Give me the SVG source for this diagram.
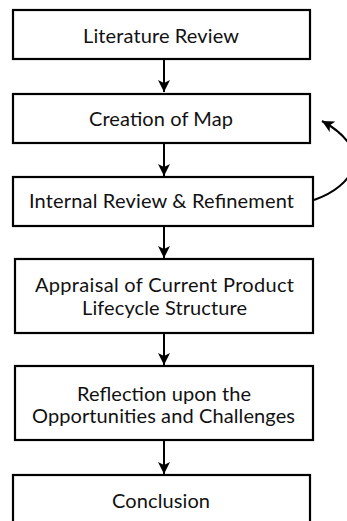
<svg xmlns="http://www.w3.org/2000/svg" width="347" height="521" viewBox="0 0 347 521">
  <style>
    .box { fill: #ffffff; stroke: #000000; stroke-width: 2.2; }
    .lbl { font-family: "Lato", "Liberation Sans", sans-serif; font-size: 20px; fill: #111111; text-anchor: middle; }
    .edge { fill: none; stroke: #000000; stroke-width: 2; }
  </style>
  <defs>
    <marker id="arrow" viewBox="0 0 12 12" refX="12" refY="6" markerWidth="12" markerHeight="12" markerUnits="userSpaceOnUse" orient="auto">
      <path d="M0,0 L12,6 L0,12 L3,6 Z" fill="#000000"/>
    </marker>
  </defs>

  <rect x="0" y="0" width="347" height="521" fill="#ffffff"/>

  <g id="connectors">
    <line class="edge" x1="164" y1="60" x2="164" y2="92" marker-end="url(#arrow)"/>
    <line class="edge" x1="164" y1="144" x2="164" y2="176" marker-end="url(#arrow)"/>
    <line class="edge" x1="164" y1="227" x2="164" y2="258" marker-end="url(#arrow)"/>
    <line class="edge" x1="164" y1="334" x2="164" y2="365" marker-end="url(#arrow)"/>
    <line class="edge" x1="164" y1="441" x2="164" y2="474" marker-end="url(#arrow)"/>
    <path class="edge" d="M314,200 C355,186 375,150 322,121" marker-end="url(#arrow)"/>
  </g>

  <g id="literature-review">
    <rect class="box" x="13" y="10" width="297" height="49"/>
    <text class="lbl" x="161" y="42.5" textLength="156">Literature Review</text>
  </g>

  <g id="creation-of-map">
    <rect class="box" x="13" y="94" width="297" height="49"/>
    <text class="lbl" x="161" y="126" textLength="144">Creation of Map</text>
  </g>

  <g id="internal-review">
    <rect class="box" x="13" y="177" width="300" height="49"/>
    <text class="lbl" x="161.5" y="208" textLength="265">Internal Review &amp; Refinement</text>
  </g>

  <g id="appraisal">
    <rect class="box" x="15" y="259" width="298" height="74"/>
    <text class="lbl" x="164.5" y="292" textLength="259">Appraisal of Current Product</text>
    <text class="lbl" x="164.5" y="315" textLength="165">Lifecycle Structure</text>
  </g>

  <g id="reflection">
    <rect class="box" x="15" y="366" width="298" height="74"/>
    <text class="lbl" x="164" y="400.5" textLength="174">Reflection upon the</text>
    <text class="lbl" x="163.5" y="422.5" textLength="263">Opportunities and Challenges</text>
  </g>

  <g id="conclusion">
    <rect class="box" x="13" y="475" width="297" height="60"/>
    <text class="lbl" x="161" y="508" textLength="98">Conclusion</text>
  </g>
</svg>
